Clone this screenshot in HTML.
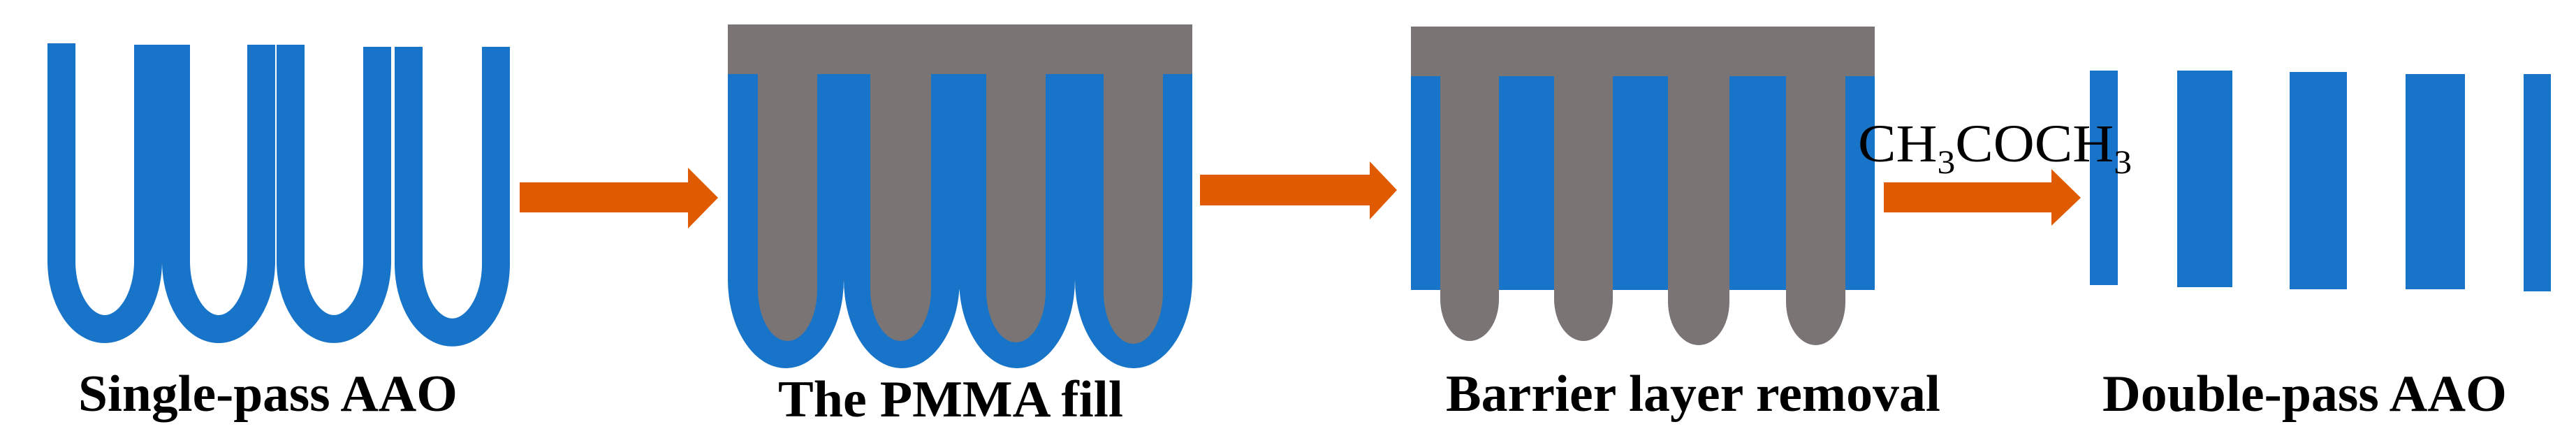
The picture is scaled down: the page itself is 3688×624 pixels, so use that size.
<!DOCTYPE html>
<html><head><meta charset="utf-8"><style>
html,body{margin:0;padding:0;background:#fff;}
svg{display:block;}
text{font-family:"Liberation Serif",serif;fill:#000;}
</style></head><body>
<svg width="3688" height="624" viewBox="0 0 3688 624" xmlns="http://www.w3.org/2000/svg">
<!-- Panel 1 -->
<g fill="none" stroke="#1874C8" stroke-width="40">
<path d="M88,62 V374 A62,97 0 0 0 212,374 V64"/>
<path d="M252,64 V374 A61,97 0 0 0 374,374 V64"/>
<path d="M416,64 V374 A62,97 0 0 0 540,374 V67"/>
<path d="M585,67 V378 A62,97 0 0 0 710,378 V67"/>
</g>
<rect x="561" y="66" width="3" height="330" fill="#fff"/>
<!-- Arrow 1 -->
<polygon points="744,261 985,261 985,240 1028,283 985,327 985,304 744,304" fill="#E05A00"/>
<!-- Panel 2 -->
<g fill="#1874C8">
<rect x="1042" y="105" width="665" height="297"/>
<path d="M1042,400 A83,127 0 0 0 1208,400 Z"/>
<path d="M1208,400 A83,127 0 0 0 1374,400 Z"/>
<path d="M1373,400 A83,127 0 0 0 1539,400 Z"/>
<path d="M1539,400 A84,127 0 0 0 1707,400 Z"/>
</g>
<rect x="1042" y="35" width="665" height="71" fill="#7A7474"/>
<g fill="#7A7474">
<path d="M1085,104 V414 A42.5,74 0 0 0 1170,414 V104 Z"/>
<path d="M1246,104 V414 A43.5,74 0 0 0 1333,414 V104 Z"/>
<path d="M1412,104 V416 A42.5,74 0 0 0 1497,416 V104 Z"/>
<path d="M1580,104 V418 A42.5,74 0 0 0 1665,418 V104 Z"/>
</g>
<!-- Arrow 2 -->
<polygon points="1718,250 1961,250 1961,231 2000,272 1961,314 1961,294 1718,294" fill="#E05A00"/>
<!-- Panel 3 -->
<rect x="2020" y="108" width="664" height="307" fill="#1874C8"/>
<rect x="2020" y="38" width="664" height="71" fill="#7A7474"/>
<g fill="#7A7474">
<path d="M2062,108 V428 A42,60 0 0 0 2146,428 V108 Z"/>
<path d="M2225,108 V428 A42,60 0 0 0 2309,428 V108 Z"/>
<path d="M2388,108 V432 A44,62 0 0 0 2476,432 V108 Z"/>
<path d="M2557,108 V432 A42.5,62 0 0 0 2642,432 V108 Z"/>
</g>
<!-- Arrow 3 -->
<polygon points="2697,261 2937,261 2937,242 2979,283 2937,323 2937,304 2697,304" fill="#E05A00"/>
<!-- Panel 4 -->
<g fill="#1874C8">
<rect x="2992" y="101" width="40" height="307"/>
<rect x="3117" y="101" width="79" height="310"/>
<rect x="3278" y="103" width="82" height="311"/>
<rect x="3444" y="106" width="85" height="308"/>
<rect x="3613" y="106" width="39" height="311"/>
</g>
<!-- CH3COCH3 -->
<text x="2660" y="231" font-size="76" textLength="392" lengthAdjust="spacingAndGlyphs">CH<tspan font-size="48" dy="17">3</tspan><tspan dy="-17">COCH</tspan><tspan font-size="48" dy="17">3</tspan></text>
<!-- Labels -->
<g font-weight="bold" font-size="74">
<text x="112" y="588" textLength="543" lengthAdjust="spacingAndGlyphs">Single-pass AAO</text>
<text x="1114" y="596" textLength="494" lengthAdjust="spacingAndGlyphs">The PMMA fill</text>
<text x="2070" y="588" textLength="708" lengthAdjust="spacingAndGlyphs">Barrier layer removal</text>
<text x="3010" y="588" textLength="579" lengthAdjust="spacingAndGlyphs">Double-pass AAO</text>
</g>
</svg>
</body></html>
